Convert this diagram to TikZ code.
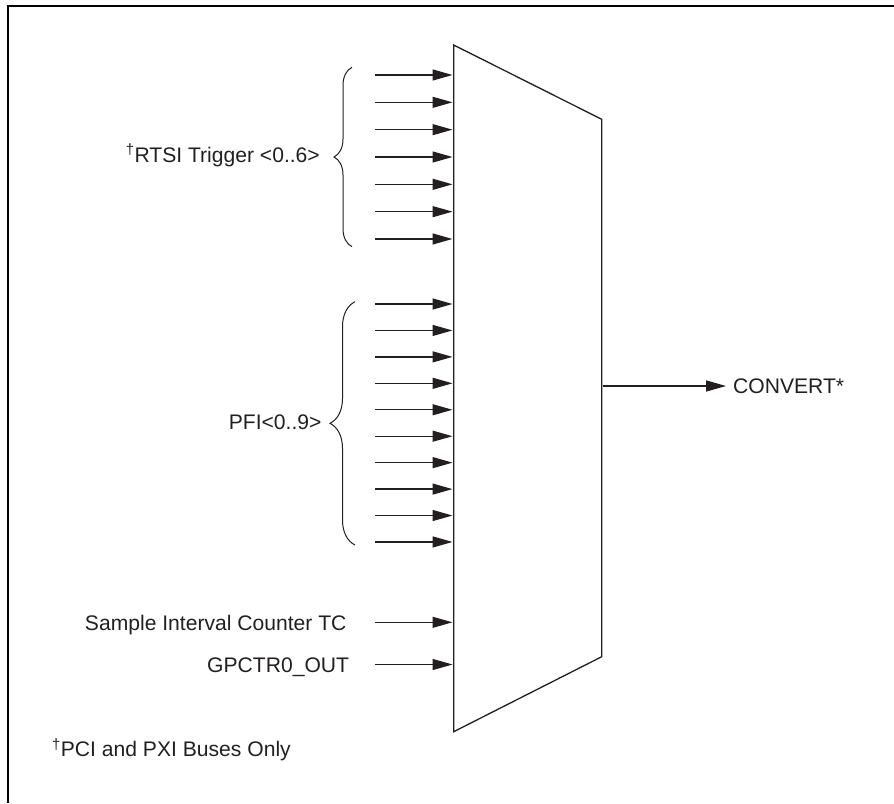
\documentclass[tikz,border=0pt]{standalone}
\usepackage{fontspec}
\setmainfont{Liberation Sans}
\usetikzlibrary{arrows.meta,decorations.pathreplacing}
\definecolor{ink}{HTML}{231F20}
\begin{document}
\begin{tikzpicture}[x=1pt,y=-1pt,
  sig/.style={line width=1.3pt, draw=ink, -{Triangle[length=20pt,width=11pt]}},
  lbl/.style={font=\fontsize{21.1}{25}\selectfont, text=ink, inner sep=0pt},
  brc/.style={decorate, decoration={brace, amplitude=#1}, line width=1pt, draw=ink},
  muxline/.style={line width=1.3pt, draw=ink, line join=miter}]
\useasboundingbox (0,0) rectangle (894,803);
% frame (top and left only)
\draw[line width=2.2pt, draw=black] (8,803) -- (8,6) -- (894,6);
% multiplexer
\coordinate (m1) at (453.7,45);
\coordinate (m2) at (601.7,119.3);
\coordinate (m3) at (601.7,656.7);
\coordinate (m4) at (453.7,731.7);
\draw[muxline] (m1) -- (m2) -- (m3) -- (m4) -- cycle;
% RTSI inputs
\foreach \i in {0,...,6} {
  \coordinate (r\i) at (375,{75+\i*27.33});
  \coordinate (rm\i) at (452.5,{75+\i*27.33});
  \draw[sig] (r\i) -- (rm\i);
}
\coordinate (rb1) at (352,246.7);
\coordinate (rb2) at (352,67.3);
\draw[brc=18pt] (rb1) -- (rb2);
\node[lbl, anchor=base east] (rtsi) at (320,162.5) {\textsuperscript{†}RTSI Trigger <0..6>};
% PFI inputs
\foreach \i in {0,...,9} {
  \coordinate (p\i) at (375,{304+\i*26.44});
  \coordinate (pm\i) at (452.5,{304+\i*26.44});
  \draw[sig] (p\i) -- (pm\i);
}
\coordinate (pb1) at (355,545);
\coordinate (pb2) at (355,301.7);
\draw[brc=25pt] (pb1) -- (pb2);
\node[lbl, anchor=base east] (pfi) at (321.7,429.3) {PFI<0..9>};
% other inputs
\coordinate (s0) at (375,622.3);
\coordinate (s1) at (452.5,622.3);
\draw[sig] (s0) -- (s1);
\node[lbl, anchor=base east] (sic) at (346.7,630) {Sample Interval Counter TC};
\coordinate (g0) at (375,664.5);
\coordinate (g1) at (452.5,664.5);
\draw[sig] (g0) -- (g1);
\node[lbl, anchor=base east] (gp) at (349.3,672.2) {GPCTR0\_OUT};
% output
\coordinate (c0) at (603,386);
\node[lbl, anchor=base west] (conv) at (733,393.6) {CONVERT*};
\coordinate (c1) at (726,386);
\draw[sig] (c0) -- (c1);
% footnote
\node[lbl, anchor=base west] (fn) at (52,756.7) {\textsuperscript{†}PCI and PXI Buses Only};
\end{tikzpicture}
\end{document}
